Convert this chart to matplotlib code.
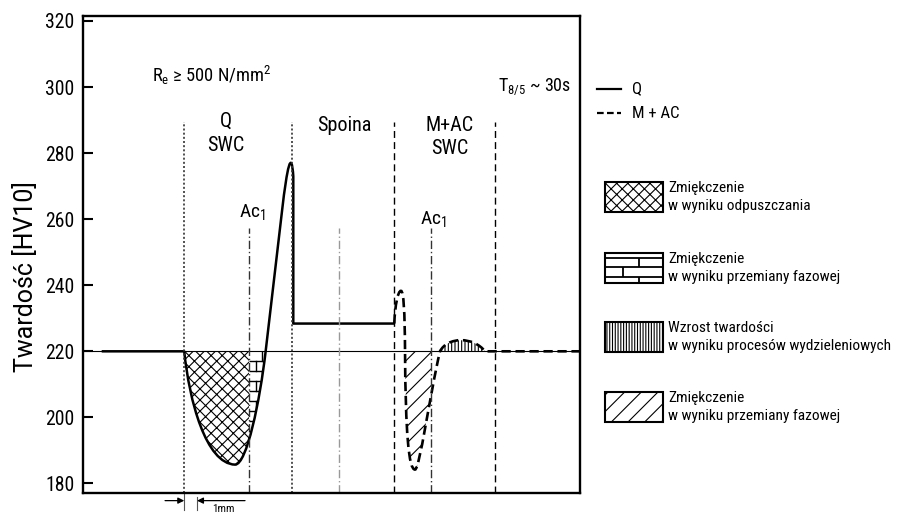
import matplotlib
matplotlib.use('Agg')
import matplotlib.pyplot as plt
from matplotlib.path import Path
from matplotlib.patches import PathPatch, Rectangle
from matplotlib import font_manager

# os x: mm od lewej krawedzi wykresu, os y: twardosc HV10
baseline = 220
x_max = 38.83
y_min, y_max = 177.2, 321.5
y_ticks = [180, 200, 220, 240, 260, 280, 300, 320]

# krzywa Q (punkty kontrolne krzywych Beziera)
q_pts = [(1.46, 220), (7.91, 220),
         (8.3, 205), (9.6, 186), (11.88, 185.7),
         (12.8, 185.7), (13.82, 205), (14.27, 220),
         (15.55, 262.5),
         (15.95, 276), (16.28, 281.5), (16.43, 273),
         (16.43, 228.4), (24.32, 228.4)]

# krzywa M + AC
mac_pts = [(24.32, 228.4),
           (24.38, 234), (24.6, 238.3), (24.84, 238.3),
           (25.05, 238.3), (25.14, 232), (25.16, 220),
           (25.2, 195), (25.45, 184.2), (25.94, 184.2),
           (26.3, 184.2), (27.1, 207), (27.89, 220),
           (28.5, 224.5), (30.5, 224.5), (31.41, 220),
           (38.83, 220)]

swc_q = [7.91, 16.36]       # granice SWC dla Q
swc_mac = [24.32, 32.19]    # granice SWC dla M+AC
ac1 = [12.97, 27.16]        # Ac1
weld_axis = 20.04           # os spoiny
zone_top = 289.5
ac1_top = 257.4
brick_rows = [217, 214, 211, 208, 205, 202, 199, 196, 193, 190, 187]

legend_labels = [('Zmiękczenie', 'w wyniku odpuszczania'),
                 ('Zmiękczenie', 'w wyniku przemiany fazowej'),
                 ('Wzrost twardości', 'w wyniku procesów wydzieleniowych'),
                 ('Zmiękczenie', 'w wyniku przemiany fazowej')]
legend_hatches = ['xxx', None, '||||||', '//']

names = {f.name for f in font_manager.fontManager.ttflist}
if 'Roboto Condensed' in names:
    narrow = 'Roboto Condensed'
elif 'Liberation Sans Narrow' in names:
    narrow = 'Liberation Sans Narrow'
else:
    narrow = 'Roboto'
sc = 1.0 if narrow != 'Roboto' else 0.9

plt.rcParams['font.family'] = [narrow, 'DejaVu Sans']
plt.rcParams['mathtext.fontset'] = 'custom'
plt.rcParams['mathtext.rm'] = narrow
plt.rcParams['hatch.linewidth'] = 0.8

M, L, C = Path.MOVETO, Path.LINETO, Path.CURVE4
q_codes = [M, L, C, C, C, C, C, C, L, C, C, C, L, L]
mac_codes = [M, C, C, C, C, C, C, C, C, C, C, C, C, C, C, C, L]


def region(pts):
    # obszar miedzy krzywa a linia 220
    codes = [M] + [C] * (len(pts) - 1) + [Path.CLOSEPOLY]
    return Path(list(pts) + [pts[0]], codes)


fig = plt.figure(figsize=(8.98, 5.14), dpi=100)
ax = fig.add_axes([83 / 898, 1 - 492.7 / 514, 497 / 898, 476.7 / 514])
ax.set_xlim(0, x_max)
ax.set_ylim(y_min, y_max)
ax.set_xticks([])
ax.set_yticks(y_ticks)
ax.tick_params(axis='y', direction='in', length=7.5, width=1.5,
               labelsize=14.2 * sc, pad=6)
for s in ax.spines.values():
    s.set_linewidth(1.7)

ax.axhline(baseline, color='k', lw=0.8)

# linie stref
ax.vlines(swc_q, y_min, zone_top, colors='#333333', lw=1.2, linestyles=[(0, (1.2, 1.3))])
ax.vlines(swc_mac, y_min, zone_top, colors='k', lw=1.0, linestyles=[(0, (5, 3))])
ax.vlines(ac1, y_min, ac1_top, colors='#333333', lw=1.0, linestyles=[(0, (6, 2, 1, 2))])
ax.vlines([weld_axis], y_min, ac1_top, colors='#999999', lw=1.0, linestyles=[(0, (6, 2, 1, 2))])

# obszary zakreskowane
q_dip = PathPatch(region(q_pts[1:8]), facecolor='none', edgecolor='k', lw=0, hatch='xxx')
ax.add_patch(q_dip)
q_dip.set_clip_path(Rectangle((swc_q[0], y_min), ac1[0] - swc_q[0], 60, transform=ax.transData))

brick_clip = PathPatch(region(q_pts[1:8]), facecolor='none', edgecolor='none')
ax.add_patch(brick_clip)
h = ax.hlines(brick_rows, ac1[0], 14.3, colors='k', lw=1.0)
h.set_clip_path(brick_clip)
for i, yr in enumerate([baseline] + brick_rows[:-1]):
    xv = 13.95 if i % 2 == 0 else 13.55
    v, = ax.plot([xv, xv], [yr, yr - 3], color='k', lw=1.0)
    v.set_clip_path(brick_clip)

mac_dip = PathPatch(region(mac_pts[6:13]), facecolor='none', edgecolor='k', lw=0, hatch='//')
ax.add_patch(mac_dip)
mac_dip.set_clip_path(Rectangle((mac_pts[6][0], y_min), ac1[1] - mac_pts[6][0], 60, transform=ax.transData))

mac_bump = PathPatch(region(mac_pts[12:16]), facecolor='none', edgecolor='k', lw=0, hatch='|||||')
ax.add_patch(mac_bump)

# krzywe
ax.add_patch(PathPatch(Path(q_pts, q_codes), fill=False, edgecolor='k', lw=1.8,
                       capstyle='butt', joinstyle='round'))
ax.add_patch(PathPatch(Path(mac_pts, mac_codes), fill=False, edgecolor='k', lw=1.9,
                       linestyle=(0, (3.5, 1.8))))

# opisy
fs = 14.5 * sc
ax.text(11.2, 289.6, 'Q', ha='center', va='center', fontsize=fs)
ax.text(11.15, 282.2, 'SWC', ha='center', va='center', fontsize=fs)
ax.text(20.45, 288.3, 'Spoina', ha='center', va='center', fontsize=fs)
ax.text(28.67, 288.4, 'M+AC', ha='center', va='center', fontsize=fs)
ax.text(28.67, 281.5, 'SWC', ha='center', va='center', fontsize=fs)
ax.text(13.2, 261.9, r'Ac$_\mathregular{1}$', ha='center', va='center', fontsize=14 * sc)
ax.text(27.36, 259.8, r'Ac$_\mathregular{1}$', ha='center', va='center', fontsize=14 * sc)
ax.text(5.39, 303.4, r'R$_\mathregular{e}$ ≥ 500 N/mm$^\mathregular{2}$', ha='left', va='center',
        fontsize=13.3 * sc)
ax.text(32.42, 300.1, r'T$_\mathregular{8/5}$ ~ 30s', ha='left', va='center', fontsize=13 * sc)

# wymiar 1 mm
ax.plot([swc_q[0], swc_q[0]], [y_min, 172.0], color='#555555', lw=0.8, clip_on=False)
ax.plot([swc_q[0] + 1, swc_q[0] + 1], [176.0, 172.0], color='#555555', lw=0.8, clip_on=False)
arr = dict(arrowstyle='-|>', color='k', lw=0.9, mutation_scale=9, shrinkA=0, shrinkB=0)
ax.annotate('', xy=(swc_q[0], 174.8), xytext=(6.41, 174.8), arrowprops=arr, annotation_clip=False)
ax.annotate('', xy=(swc_q[0] + 1, 174.8), xytext=(12.66, 174.8), arrowprops=arr, annotation_clip=False)
ax.text(10.94, 172.3, '1mm', ha='center', va='center', fontsize=8 * sc, clip_on=False)

fig.text(26 / 898, 1 - 277 / 514, 'Twardość [HV10]', rotation=90, ha='center', va='center',
         fontsize=18, family=['Roboto', 'DejaVu Sans'])

# legenda (wspolrzedne w pikselach)
ov = fig.add_axes([0, 0, 1, 1])
ov.set_xlim(0, 898)
ov.set_ylim(514, 0)
ov.axis('off')

ov.plot([597, 621], [89, 89], color='k', lw=1.6)
ov.text(632, 89, 'Q', va='center', fontsize=12 * sc)
ov.plot([597, 621], [113, 113], color='k', lw=1.6, ls=(0, (3, 1.5)))
ov.text(632, 113, 'M + AC', va='center', fontsize=12 * sc)

box_tops = [181.7, 252.7, 321.7, 391.7]
bx, bw, bh = 605, 57.7, 30
for top, hatch, (l1, l2) in zip(box_tops, legend_hatches, legend_labels):
    ov.add_patch(Rectangle((bx, top), bw, bh, facecolor='none', edgecolor='k', lw=1.5, hatch=hatch))
    ov.text(668, top + 6.5, l1, va='center', fontsize=11.1 * sc)
    ov.text(668, top + 24.5, l2, va='center', fontsize=11.1 * sc)

# cegielki w legendzie
t = box_tops[1]
ov.hlines([t + 4.8, t + 14.6, t + 24.2], bx, bx + bw, colors='k', lw=1.3)
ov.vlines([bx + 34], t + 4.8, t + 14.6, colors='k', lw=1.3)
ov.vlines([bx + 18], t + 14.6, t + 24.2, colors='k', lw=1.3)
ov.vlines([bx + 34], t + 24.2, t + bh, colors='k', lw=1.3)

fig.savefig('out.png', dpi=100)
